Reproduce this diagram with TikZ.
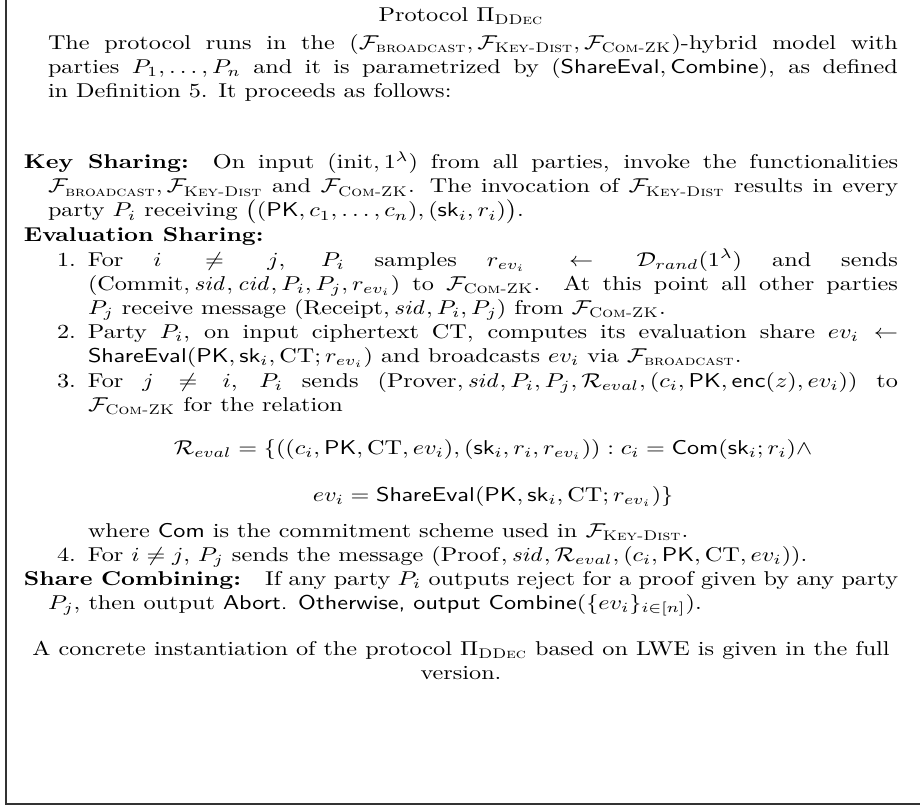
\documentclass[tikz,border=0pt]{standalone}
\usepackage{amsmath,amssymb}
% ideal functionalities and protocol name
\newcommand{\FBC}{\mathcal{F}_{\textsc{broadcast}}}
\newcommand{\FKD}{\mathcal{F}_{\textsc{Key-Dist}}}
\newcommand{\FCZ}{\mathcal{F}_{\textsc{Com-ZK}}}
\newcommand{\PiDD}{\Pi_{\textsc{DDec}}}
\newcommand{\Reval}{\mathcal{R}_{eval}}
\newcommand{\rev}{r_{ev_i}}
\begin{document}
% the text is set slightly wide: xscale 1.21, horizontal unit compensated
\begin{tikzpicture}[xscale=1.21, x=0.41322pt, y=-0.5pt,
  every node/.style={transform shape},
  txt/.style={anchor=base west, inner sep=0pt, outer sep=0pt, align=justify},
  ctr/.style={anchor=base, inner sep=0pt, outer sep=0pt, align=flush center},
  frameline/.style={line width=0.7pt, draw=black!80}]
\useasboundingbox (0,0) rectangle (920,808);
% open frame: left and bottom rules
\coordinate (ftop) at (6,0);
\coordinate (fcorner) at (6,804);
\coordinate (fright) at (920,804);
\draw[frameline] (ftop) -- (fcorner) -- (fright);

\node[ctr] (title) at (461,22) {Protocol $\PiDD$};

\node[txt, text width=351.2pt] (intro) at (48,50)
 {The protocol runs in the $(\FBC,\FKD,\FCZ)$-hybrid model with\linebreak
  parties $P_1,\ldots,P_n$ and it is parametrized by $(\mathsf{ShareEval},\mathsf{Combine})$, as defined\linebreak
  in Definition 5. It proceeds as follows:\par};

\node[txt, text width=361.2pt] (keyshare) at (24,169)
 {\hangindent=9.92pt\hangafter=1
  \textbf{Key Sharing:}\quad On input $(\mathrm{init},1^\lambda)$ from all parties, invoke the functionalities\linebreak
  $\FBC,\FKD$ and $\FCZ$. The invocation of $\FKD$ results in every\linebreak
  party $P_i$ receiving $\big((\mathsf{PK},c_1,\ldots,c_n),(\mathsf{sk}_i,r_i)\big)$.\par};

\node[txt, text width=361.2pt] (evalshare) at (24,241)
 {\textbf{Evaluation Sharing:}\par};

\node[txt, text width=334.7pt] (step1) at (88,266)
 {\llap{1.\hspace{0.5em}}For $i\neq j$, $P_i$ samples $\rev\leftarrow\mathcal{D}_{rand}(1^\lambda)$ and sends\linebreak
  $(\mathrm{Commit},\mathit{sid},\mathit{cid},P_i,P_j,\rev)$ to $\FCZ$. At this point all other parties\linebreak
  $P_j$ receive message $(\mathrm{Receipt},\mathit{sid},P_i,P_j)$ from $\FCZ$.\par};

\node[txt, text width=334.7pt] (step2) at (88,338)
 {\llap{2.\hspace{0.5em}}Party $P_i$, on input ciphertext $\mathrm{CT}$, computes its evaluation share $ev_i\leftarrow$\linebreak
  $\mathsf{ShareEval}(\mathsf{PK},\mathsf{sk}_i,\mathrm{CT};\rev)$ and broadcasts $ev_i$ via $\FBC$.\par};

\node[txt, text width=334.7pt] (step3) at (88,387)
 {\llap{3.\hspace{0.5em}}For $j\neq i$, $P_i$ sends $(\mathrm{Prover},\mathit{sid},P_i,P_j,\Reval,(c_i,\mathsf{PK},\mathsf{enc}(z),ev_i))$ to\linebreak
  $\FCZ$ for the relation\par};

\node[ctr] (relA) at (493,454)
 {$\Reval=\{((c_i,\mathsf{PK},\mathrm{CT},ev_i),(\mathsf{sk}_i,r_i,\rev)):c_i=\mathsf{Com}(\mathsf{sk}_i;r_i)\wedge$};
\node[ctr] (relB) at (493,501)
 {$ev_i=\mathsf{ShareEval}(\mathsf{PK},\mathsf{sk}_i,\mathrm{CT};\rev)\}$};

\node[txt, text width=334.7pt] (where) at (88,537)
 {where $\mathsf{Com}$ is the commitment scheme used in $\FKD$.\par};

\node[txt, text width=334.7pt] (step4) at (88,561)
 {\llap{4.\hspace{0.5em}}For $i\neq j$, $P_j$ sends the message $(\mathrm{Proof},\mathit{sid},\Reval,(c_i,\mathsf{PK},\mathrm{CT},ev_i))$.\par};

\node[txt, text width=361.2pt] (combine) at (24,585)
 {\hangindent=9.92pt\hangafter=1
  \textbf{Share Combining:}\quad If any party $P_i$ outputs reject for a proof given by any party\linebreak
  $P_j$, then output \textsf{Abort. Otherwise, output Combine}$(\{ev_i\}_{i\in[n]})$.\par};

\node[ctr, text width=361.2pt] (closing) at (461,655)
 {A concrete instantiation of the protocol $\PiDD$ based on LWE is given in the full version.};
\end{tikzpicture}
\end{document}
